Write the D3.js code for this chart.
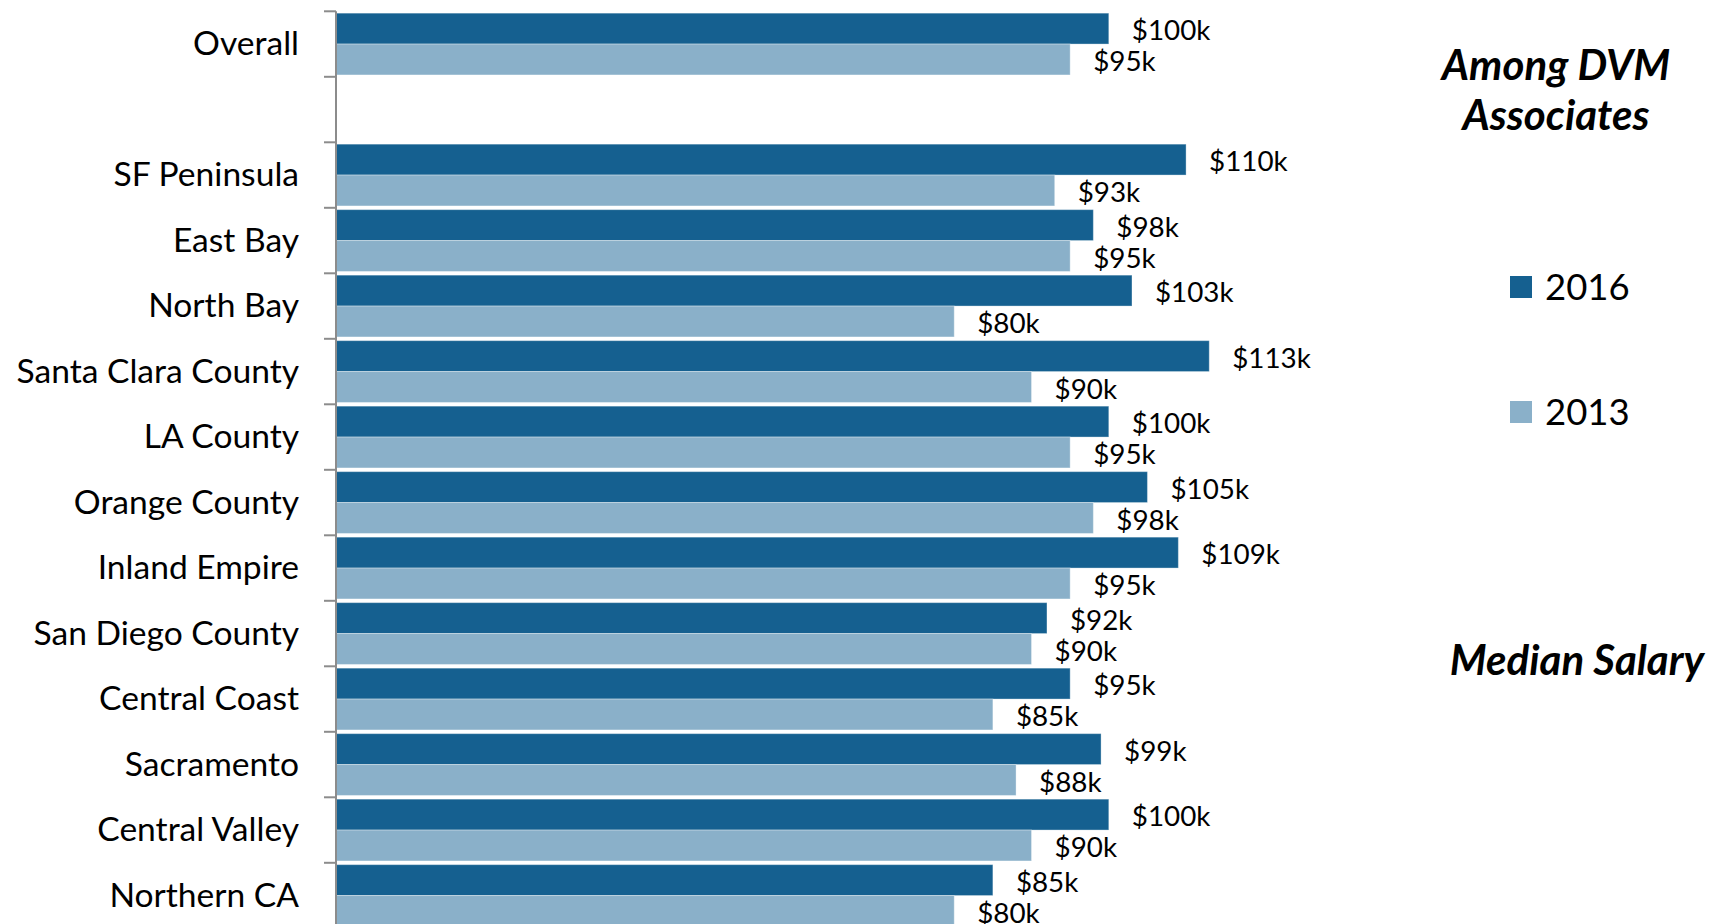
<!DOCTYPE html>
<html>
<head>
<meta charset="utf-8">
<script src="https://cdn.jsdelivr.net/npm/d3@7"></script>
<style>
  body { margin: 0; background: #fff; }
  text { font-family: Lato, "Open Sans", sans-serif; fill: #000; }
</style>
</head>
<body>
<svg id="chart" width="1709" height="924"></svg>
<script>
// data (median salary, $k)
let regions = ["Overall", "", "SF Peninsula", "East Bay", "North Bay", "Santa Clara County", "LA County",
  "Orange County", "Inland Empire", "San Diego County", "Central Coast", "Sacramento", "Central Valley", "Northern CA"]
let years = ["2016", "2013"]
let salary2016 = [100, null, 110, 98, 103, 113, 100, 105, 109, 92, 95, 99, 100, 85]
let salary2013 = [95, null, 93, 95, 80, 90, 95, 98, 95, 90, 85, 88, 90, 80]
let colors = ["#156090", "#8AB0C9"]

let svg = d3.select("#chart")

let plotVars = ({
  left: 336,
  top: 11.3,
  step: 65.5,
  pxPerK: 7.728
})

// give the empty row a unique key
let keys = regions.map((d, i) => d === "" ? "blank" + i : d)

let yScale = d3.scaleBand()
  .domain(keys)
  .range([plotVars.top, plotVars.top + plotVars.step * keys.length])
  .paddingInner(0)
  .paddingOuter(0)

let ySub = d3.scaleBand()
  .domain(years)
  .range([0, yScale.bandwidth()])
  .paddingInner(0)
  .paddingOuter(0.06)

let xScale = d3.scaleLinear()
  .domain([0, 100])
  .range([plotVars.left, plotVars.left + 100 * plotVars.pxPerK])

let rows = keys.map((k, i) => ({ key: k, label: regions[i], values: [salary2016[i], salary2013[i]] }))

// bars
let g = svg.append("g")
  .selectAll("g")
  .data(rows)
  .join("g")
  .attr("transform", d => `translate(0,${yScale(d.key)})`)

let cells = g.selectAll("g")
  .data(d => d.values.map((v, j) => ({ year: years[j], v: v, c: colors[j] })).filter(e => e.v != null))
  .join("g")

cells.append("rect")
  .attr("x", xScale(0))
  .attr("y", d => ySub(d.year))
  .attr("width", d => xScale(d.v) - xScale(0))
  .attr("height", ySub.bandwidth())
  .attr("fill", d => d.c)
  .attr("stroke", "#fff")
  .attr("stroke-opacity", 0.35)
  .attr("stroke-width", 1)

cells.append("text")
  .attr("x", d => xScale(d.v) + 23)
  .attr("y", d => ySub(d.year) + ySub.bandwidth() / 2)
  .attr("dy", "0.42em")
  .style("font-size", "27.8px")
  .text(d => "$" + d.v + "k")

// axis with Excel-style ticks between categories
let axisX = xScale(0)
let tickYs = keys.map(k => yScale(k)).concat([yScale.range()[1]])

svg.append("line")
  .attr("x1", axisX).attr("x2", axisX)
  .attr("y1", tickYs[0]).attr("y2", 924)
  .attr("stroke", "#8c8c8c").attr("stroke-width", 2)

svg.append("g").selectAll("line")
  .data(tickYs)
  .join("line")
  .attr("x1", axisX - 12).attr("x2", axisX)
  .attr("y1", d => d).attr("y2", d => d)
  .attr("stroke", "#8c8c8c").attr("stroke-width", 2)

svg.append("g").selectAll("text")
  .data(rows)
  .join("text")
  .attr("x", axisX - 37)
  .attr("y", d => yScale(d.key) + yScale.bandwidth() / 2)
  .attr("dy", "0.33em")
  .attr("text-anchor", "end")
  .style("font-size", "33.6px")
  .text(d => d.label)

// titles
let title = svg.append("g")
  .style("font-size", "42px")
  .style("font-weight", "bold")
  .style("font-style", "italic")
  .attr("text-anchor", "middle")
title.append("text").attr("x", 1556).attr("y", 65).attr("dy", "0.35em").text("Among DVM")
title.append("text").attr("x", 1556).attr("y", 115.5).attr("dy", "0.35em").text("Associates")
title.append("text").attr("x", 1577).attr("y", 660.5).attr("dy", "0.35em").text("Median Salary")

// legend
let legend = svg.append("g").selectAll("g")
  .data(years)
  .join("g")
  .attr("transform", (d, i) => `translate(1510,${287 + i * 125})`)

legend.append("rect")
  .attr("x", 0).attr("y", -11)
  .attr("width", 22).attr("height", 22)
  .attr("fill", (d, i) => colors[i])

legend.append("text")
  .attr("x", 35).attr("y", 0).attr("dy", "0.35em")
  .style("font-size", "36.5px")
  .text(d => d)
</script>
</body>
</html>
